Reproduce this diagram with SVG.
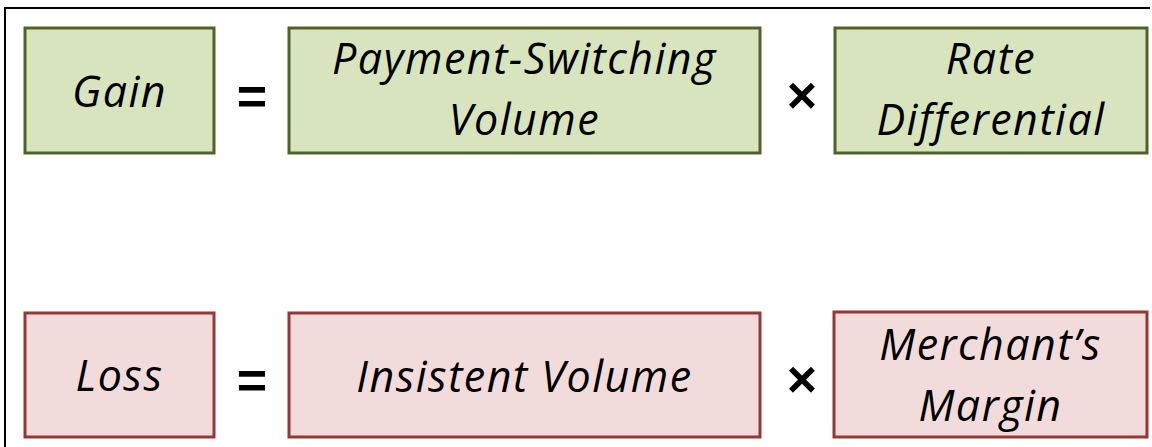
<svg xmlns="http://www.w3.org/2000/svg" width="1152" height="447" viewBox="0 0 1152 447">
<style>
.g{fill:#D7E4BD;stroke:#4F6228;stroke-width:3}
.r{fill:#F2DCDB;stroke:#953735;stroke-width:3}
.t{font-family:"Open Sans","Liberation Sans",sans-serif;font-style:italic;font-size:43px;letter-spacing:1.5px;fill:#000;text-anchor:middle}
.op{font-family:"Liberation Sans",sans-serif;font-weight:bold;font-size:52px;fill:#000;text-anchor:middle}
</style>
<rect width="1152" height="447" fill="#fff"/>
<path d="M5,447 V8 H1150" fill="none" stroke="#000" stroke-width="2"/>
<g id="gain"><rect class="g" x="25" y="28" width="189" height="125"/><text class="t" x="119.5" y="107">Gain</text></g>
<g id="eq1"><text class="op" x="252" y="114">=</text></g>
<g id="psv"><rect class="g" x="289" y="28" width="471" height="125"/><text class="t" x="524.5" y="74">Payment-Switching</text><text class="t" x="524.5" y="135">Volume</text></g>
<g id="x1"><text class="op" x="802" y="113">×</text></g>
<g id="rate"><rect class="g" x="835" y="28" width="312" height="125"/><text class="t" x="991" y="74">Rate</text><text class="t" x="991" y="135">Differential</text></g>
<g id="loss"><rect class="r" x="25" y="313" width="189" height="124"/><text class="t" x="119.5" y="391">Loss</text></g>
<g id="eq2"><text class="op" x="252" y="398">=</text></g>
<g id="iv"><rect class="r" x="289" y="313" width="471" height="124"/><text class="t" x="524.5" y="392">Insistent Volume</text></g>
<g id="x2"><text class="op" x="802" y="397">×</text></g>
<g id="mm"><rect class="r" x="834" y="312" width="313" height="125"/><text class="t" x="990.5" y="360">Merchant’s</text><text class="t" x="990.5" y="421">Margin</text></g>
<g id="connectors"></g>
</svg>
